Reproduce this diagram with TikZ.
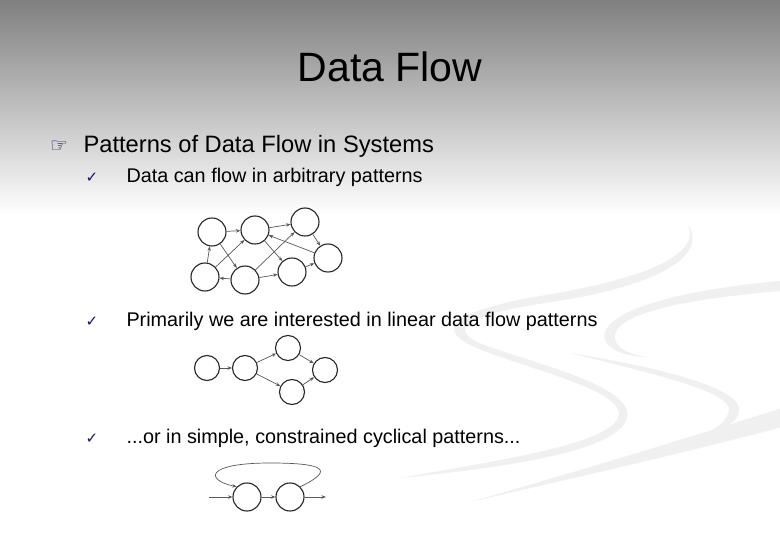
\documentclass[tikz,border=0pt]{standalone}
\usepackage{fontspec}
\setmainfont{Liberation Sans}
\newfontfamily\symfont{DejaVu Sans}
\usetikzlibrary{arrows.meta, positioning}

\definecolor{bulletblue}{RGB}{20,20,110}
\tikzset{
  proc/.style={circle, draw=black!85, line width=1.1pt, minimum size=28pt, inner sep=0pt},
  sproc/.style={proc, minimum size=25pt},
  flow/.style={draw=black!65, line width=0.7pt, -{Stealth[length=4.5pt,width=3.5pt]}},
  swoosh/.style={fill=black!6, draw=none},
  checkmark/.style={anchor=base, text=bulletblue, font=\symfont\fontsize{15}{18}\selectfont},
  bullettext/.style={anchor=base west, font=\fontsize{19.8}{24}\selectfont}
}

\begin{document}
\begin{tikzpicture}[x=1pt, y=-1pt]
  % Canvas and background
  \useasboundingbox (0,0) rectangle (780,540);
  \fill[white] (0,0) rectangle (780,540);
  \shade[top color=black!50, bottom color=white] (0,0) rectangle (780,215);

  % Decorative swooshes
  \fill[swoosh] (687,223) .. controls (705,255) and (640,280) .. (540,296)
    .. controls (470,308) and (430,325) .. (470,345)
    .. controls (520,368) and (630,390) .. (618,418)
    .. controls (605,445) and (500,460) .. (400,478)
    .. controls (500,468) and (618,452) .. (627,418)
    .. controls (636,385) and (525,362) .. (477,342)
    .. controls (445,325) and (480,313) .. (545,303)
    .. controls (650,288) and (712,258) .. (687,223) -- cycle;
  \fill[swoosh] (780,291) .. controls (700,298) and (622,310) .. (615,334)
    .. controls (612,347) and (630,355) .. (647,357)
    .. controls (622,357) and (600,346) .. (605,332)
    .. controls (615,305) and (700,288) .. (780,281) -- cycle;
  \fill[swoosh] (570,353) .. controls (640,371) and (730,390) .. (729,410)
    .. controls (728,421) and (715,430) .. (703,433)
    .. controls (725,429) and (741,421) .. (739,408)
    .. controls (736,385) and (640,364) .. (570,353) -- cycle;
  \fill[swoosh] (782,408) .. controls (700,434) and (600,465) .. (470,502)
    .. controls (600,472) and (700,449) .. (782,427) -- cycle;

  % Title
  \node[anchor=base, font=\fontsize{41}{48}\selectfont] (title) at (390,82) {Data Flow};

  % Bullets
  \node[anchor=base, text=bulletblue, font=\symfont\fontsize{20}{24}\selectfont] (hand) at (59,153) {☞};
  \node[anchor=base west, font=\fontsize{23.7}{28}\selectfont] (head) at (80,153) {Patterns of Data Flow in Systems};

  \node[checkmark] (chk1) at (92,183) {✓};
  \node[bullettext] (txt1) at (123,183) {Data can flow in arbitrary patterns};
  \node[checkmark] (chk2) at (92,327) {✓};
  \node[bullettext] (txt2) at (123,327) {Primarily we are interested in linear data flow patterns};
  \node[checkmark] (chk3) at (92,443) {✓};
  \node[bullettext] (txt3) at (123,443) {...or in simple, constrained cyclical patterns...};

  % Arbitrary graph
  \node[proc] (a1) at (212,232) {};
  \node[proc] (a2) at (255,230) {};
  \node[proc] (a3) at (305,222) {};
  \node[proc] (a4) at (205,277) {};
  \node[proc] (a5) at (245,280) {};
  \node[proc] (a6) at (292,272) {};
  \node[proc] (a7) at (328,258) {};
  \draw[flow] (a1) -- (a2);
  \draw[flow] (a4) -- (a1);
  \draw[flow] (a1) -- (a5);
  \draw[flow] (a4) -- (a2);
  \draw[flow] (a5) -- (a4);
  \draw[flow] (a2) -- (a3);
  \draw[flow] (a5) -- (a3);
  \draw[flow] (a5) -- (a6);
  \draw[flow] (a2) -- (a6);
  \draw[flow] (a7) -- (a2);
  \draw[flow] (a3) -- (a7);
  \draw[flow] (a6) -- (a7);

  % Linear graph
  \node[sproc] (l1) at (207,368) {};
  \node[sproc] (l2) at (245,368) {};
  \node[sproc] (l3) at (288,348) {};
  \node[sproc] (l4) at (292,392) {};
  \node[sproc] (l5) at (325,370) {};
  \draw[flow] (l1) -- (l2);
  \draw[flow] (l2) -- (l3);
  \draw[flow] (l2) -- (l4);
  \draw[flow] (l3) -- (l5);
  \draw[flow] (l4) -- (l5);

  % Cyclic graph
  \node[proc] (c1) at (247,497) {};
  \node[proc] (c2) at (290,497) {};
  \coordinate (cin) at (209,497);
  \coordinate (cout) at (326,497);
  \draw[flow] (cin) -- (c1);
  \draw[flow] (c1) -- (c2);
  \draw[flow] (c2) -- (cout);
  \draw[flow] (c2.north east) .. controls (335,470) and (325,463) .. (270,463)
    .. controls (205,463) and (205,480) .. (c1.north west);
\end{tikzpicture}
\end{document}
